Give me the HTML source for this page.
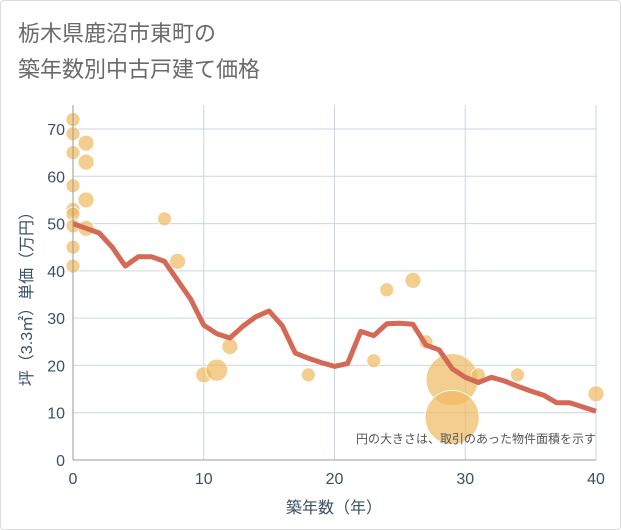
<!DOCTYPE html>
<html><head><meta charset="utf-8">
<style>
html,body{margin:0;padding:0;background:#fff;}
body{width:621px;height:530px;overflow:hidden;font-family:"Liberation Sans","Noto Sans CJK JP",sans-serif;}
#card{position:absolute;left:0;top:0;width:619px;height:528px;border:1px solid #dcdcdc;border-radius:4px;}
</style></head>
<body>
<div id="card"></div>
<svg id="chart" width="621" height="530" style="position:absolute;left:0;top:0">
<text x="18" y="41" font-size="22" fill="#6a6a6a" font-family="Liberation Sans, Noto Sans CJK JP, sans-serif">栃木県鹿沼市東町の</text>
<text x="18" y="77" font-size="22" fill="#6a6a6a" font-family="Liberation Sans, Noto Sans CJK JP, sans-serif">築年数別中古戸建て価格</text>
<g id="grid"></g><g id="pts"></g><g id="line"></g><g id="axes"></g>
<text x="596" y="443" font-size="12" fill="#555" text-anchor="end" font-family="Liberation Sans, Noto Sans CJK JP, sans-serif">円の大きさは、取引のあった物件面積を示す</text>
<text x="334" y="513" font-size="16" fill="#3d4f63" text-anchor="middle" font-family="Liberation Sans, Noto Sans CJK JP, sans-serif">築年数（年）</text>
<text transform="translate(32,295) rotate(-90)" font-size="16" fill="#3d4f63" text-anchor="middle" font-family="Liberation Sans, Noto Sans CJK JP, sans-serif">坪（3.3㎡）単価（万円）</text>
</svg>
<script>
const xTicks=[0,10,20,30,40];
const yTicks=[0,10,20,30,40,50,60,70];
const lineYears=[0,1,2,3,4,5,6,7,8,9,10,11,12,13,14,15,16,17,18,19,20,21,22,23,24,25,26,27,28,29,30,31,32,33,34,35,36,37,38,39,40];
const lineValues=[50,49,48,45,41,43,43,42,38,34,28.5,26.7,25.8,28.3,30.3,31.5,28.4,22.6,21.5,20.6,19.8,20.4,27.2,26.3,28.8,28.9,28.7,24.3,23.3,19.3,17.5,16.4,17.5,16.7,15.6,14.6,13.7,12.1,12.1,11.2,10.3];
const ptYears=[0,0,0,1,1,0,1,0,0,0,1,0,0,7,8,10,11,12,18,23,24,26,27,29,29,31,34,40];
const ptValues=[72,69,65,67,63,58,55,53,52,49.5,49,45,41,51,42,18,19,24,18,21,36,38,25,17,9,18,18,14];
const ptSizes=[7,7,7,8,8,7,8,7,7,7,8,7,7,7,8,8,11,8,7,7,7,8,7,26,27,7,7,8];
const X0=73,X1=596,Y0=460,Y1=129;
const xs=v=>X0+(v-0)/40*(X1-X0);
const ys=v=>Y0-v/70*(Y0-Y1);
const NS="http://www.w3.org/2000/svg";
function mk(tag,attrs,parent){const e=document.createElementNS(NS,tag);for(const k in attrs)e.setAttribute(k,attrs[k]);parent.appendChild(e);return e;}
const grid=document.getElementById('grid'),axes=document.getElementById('axes');
for(const t of xTicks){
 const l=mk('line',{x1:xs(t),x2:xs(t),y1:105,y2:Y0,stroke:'#c9d6e3','stroke-width':1},grid);
 
 
 const tx=mk('text',{x:xs(t),y:484,'font-size':16,fill:'#3d4f63','text-anchor':'middle'},axes);
 tx.textContent=t;
 
 
}
for(const t of yTicks){
 const l=mk('line',{x1:X0,x2:X1,y1:ys(t),y2:ys(t),stroke:'#c9d6e3','stroke-width':1},grid);
 
 
 const tx=mk('text',{x:65,y:ys(t)+6,'font-size':16,fill:'#3d4f63','text-anchor':'end'},axes);
 tx.textContent=t;
 
 
}
const ax=mk('line',{x1:X0,x2:X0,y1:105,y2:Y0,stroke:'#999','stroke-width':1},axes);


const bx=mk('line',{x1:X0,x2:X1,y1:Y0,y2:Y0,stroke:'#999','stroke-width':1},axes);


const pts=document.getElementById('pts');
ptYears.forEach((yr,i)=>{
 const c=mk('circle',{cx:xs(yr),cy:ys(ptValues[i]),r:ptSizes[i],fill:'rgba(240,185,95,0.7)',stroke:'#fff','stroke-width':0.8},pts);
 
 
});
const d=lineYears.map((yr,i)=>(i?'L':'M')+xs(yr).toFixed(1)+','+ys(lineValues[i]).toFixed(1)).join(' ');
const p=mk('path',{d:d,fill:'none',stroke:'#d46a55','stroke-width':5,'stroke-linejoin':'round'},document.getElementById('line'));


</script>
</body></html>
